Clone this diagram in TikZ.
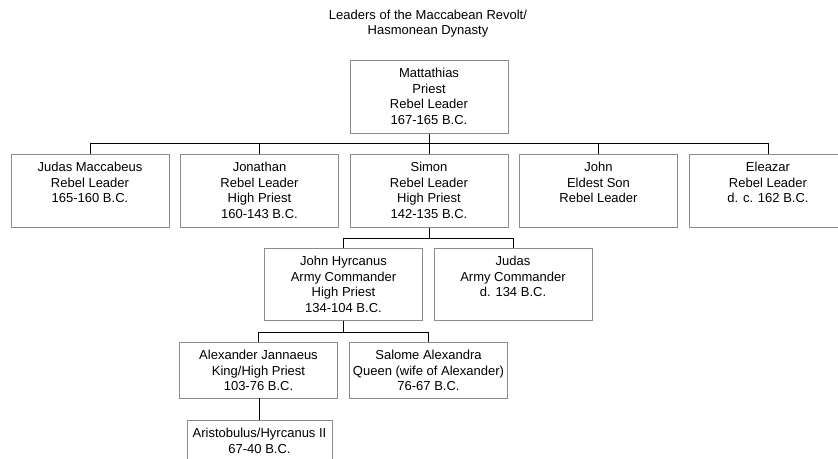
\documentclass[tikz,border=0pt]{standalone}
\usepackage{fontspec}
\setmainfont{Liberation Sans}
\newcommand{\bxt}[3]{\parbox[c][#2][t]{#1}{\centering\fontsize{13}{15.7}\selectfont\vspace*{6pt}\strut#3}}
\begin{document}
\begin{tikzpicture}[x=1pt,y=-1pt,
  bx/.style={draw=black!45,line width=0.8pt,inner sep=0pt,anchor=north},
  conn/.style={draw=black,line width=0.8pt},
  ttl/.style={align=center,font=\fontsize{13}{15.7}\selectfont,inner sep=0pt}]
\useasboundingbox (0,0) rectangle (838,458);
\clip (0,0) rectangle (838,458);
\node[ttl] (title) at (428,23.5) {Leaders of the Maccabean Revolt/\\Hasmonean Dynasty};
% level 0
\node[bx] (matt) at (429,60) {\bxt{158pt}{73pt}{Mattathias\\Priest\\Rebel Leader\\167-165 B.C.}};
% level 1
\node[bx] (judm) at (90,154) {\bxt{158pt}{73pt}{Judas Maccabeus\\Rebel Leader\\165-160 B.C.}};
\node[bx] (jona) at (259.5,154) {\bxt{158pt}{73pt}{Jonathan\\Rebel Leader\\High Priest\\160-143 B.C.}};
\node[bx] (simo) at (429,154) {\bxt{158pt}{73pt}{Simon\\Rebel Leader\\High Priest\\142-135 B.C.}};
\node[bx] (john) at (598.5,154) {\bxt{158pt}{73pt}{John\\Eldest Son\\Rebel Leader}};
\node[bx] (elea) at (768,154) {\bxt{158pt}{73pt}{Eleazar\\Rebel Leader\\d. c. 162 B.C.}};
% level 2
\node[bx] (hyrc) at (343.5,248) {\bxt{158pt}{72pt}{John Hyrcanus\\Army Commander\\High Priest\\134-104 B.C.}};
\node[bx] (juda) at (513,248) {\bxt{158pt}{72pt}{Judas\\Army Commander\\d. 134 B.C.}};
% level 3
\node[bx] (alex) at (258.5,342) {\bxt{158pt}{56pt}{Alexander Jannaeus\\King/High Priest\\103-76 B.C.}};
\node[bx] (salo) at (428.5,342) {\bxt{158pt}{56pt}{Salome Alexandra\\Queen (wife of Alexander)\\76-67 B.C.}};
% level 4
\node[bx] (aris) at (259.5,420) {\bxt{145pt}{52pt}{Aristobulus/Hyrcanus II\\67-40 B.C.}};
% connectors
\coordinate (busA) at (429,143);
\coordinate (busB) at (429,238);
\coordinate (busC) at (343.5,332);
\draw[conn] (matt.south) -- (busA);
\draw[conn] (judm.north) -- (judm.north |- busA) -- (elea.north |- busA) -- (elea.north);
\draw[conn] (jona.north) -- (jona.north |- busA);
\draw[conn] (simo.north) -- (simo.north |- busA);
\draw[conn] (john.north) -- (john.north |- busA);
\draw[conn] (simo.south) -- (busB);
\draw[conn] (hyrc.north) -- (hyrc.north |- busB) -- (juda.north |- busB) -- (juda.north);
\draw[conn] (hyrc.south) -- (busC);
\draw[conn] (alex.north) -- (alex.north |- busC) -- (salo.north |- busC) -- (salo.north);
\draw[conn] (alex.south) -- (alex.south -| aris.north) -- (aris.north);
\end{tikzpicture}
\end{document}
